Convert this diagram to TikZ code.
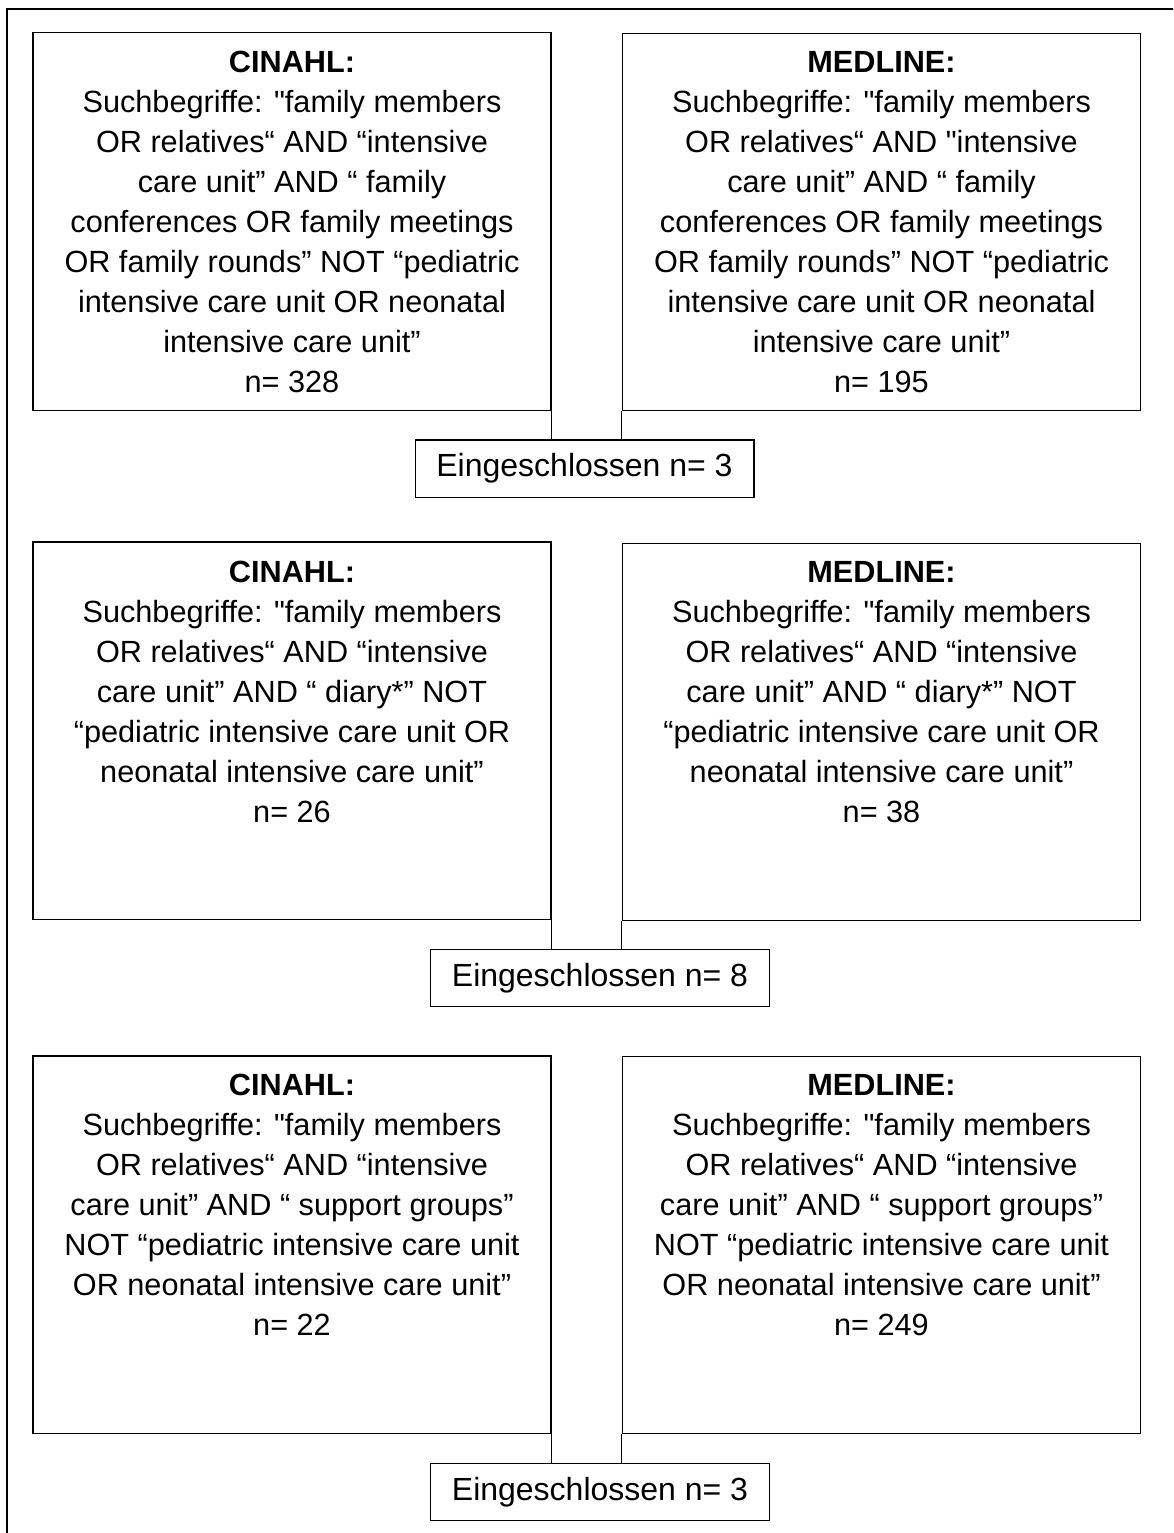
\documentclass[tikz,border=0pt]{standalone}
\usepackage{fontspec}
\setmainfont{Liberation Sans}
\newfontfamily\plainfont{Liberation Sans}
\newcommand\dq{{\plainfont"}}
\begin{document}
\begin{tikzpicture}[x=0.75pt,y=-0.75pt,
  box/.style={draw=black,line width=1pt,rectangle,inner sep=0pt},
  srch/.style={box,minimum width=388.5pt,minimum height=283pt},
  incl/.style={box,minimum width=254pt,minimum height=43pt,font=\fontsize{24}{30}\selectfont},
  txt/.style={anchor=north,inner sep=0pt,align=center,font=\fontsize{23}{30}\selectfont},
  link/.style={draw=black,line width=0.8pt}]
\useasboundingbox (0,0) rectangle (1173,1533);
\clip (0,0) rectangle (1173,1533);
\draw[line width=1.6pt] (7,9) rectangle (1190,1550);

% Row 1
\node[srch] (c1) at (292,221.5) {};
\node[srch] (m1) at (881.5,222) {};
\node[txt] (tc1) at (292,51) {\textbf{CINAHL:}\\Suchbegriffe: \dq family members\\OR relatives“ AND “intensive\\care unit” AND “ family\\conferences OR family meetings\\OR family rounds” NOT “pediatric\\intensive care unit OR neonatal\\intensive care unit”\\n= 328};
\node[txt] (tm1) at (881.5,51) {\textbf{MEDLINE:}\\Suchbegriffe: \dq family members\\OR relatives“ AND \dq intensive\\care unit” AND “ family\\conferences OR family meetings\\OR family rounds” NOT “pediatric\\intensive care unit OR neonatal\\intensive care unit”\\n= 195};
\node[incl] (e1) at (584.5,468.5) {Eingeschlossen n= 3};
\draw[link] (c1.south east) -- (c1.south east |- e1.north);
\draw[link] (m1.south west) -- (m1.south west |- e1.north);

% Row 2
\node[srch] (c2) at (292,730.5) {};
\node[srch] (m2) at (881.5,732) {};
\node[txt] (tc2) at (292,561) {\textbf{CINAHL:}\\Suchbegriffe: \dq family members\\OR relatives“ AND “intensive\\care unit” AND “ diary*” NOT\\“pediatric intensive care unit OR\\neonatal intensive care unit”\\n= 26};
\node[txt] (tm2) at (881.5,561) {\textbf{MEDLINE:}\\Suchbegriffe: \dq family members\\OR relatives“ AND “intensive\\care unit” AND “ diary*” NOT\\“pediatric intensive care unit OR\\neonatal intensive care unit”\\n= 38};
\node[incl] (e2) at (600,978) {Eingeschlossen n= 8};
\draw[link] (c2.south east) -- (c2.south east |- e2.north);
\draw[link] (m2.south west) -- (m2.south west |- e2.north);

% Row 3
\node[srch] (c3) at (292,1244.5) {};
\node[srch] (m3) at (881.5,1245) {};
\node[txt] (tc3) at (292,1074) {\textbf{CINAHL:}\\Suchbegriffe: \dq family members\\OR relatives“ AND “intensive\\care unit” AND “ support groups”\\NOT “pediatric intensive care unit\\OR neonatal intensive care unit”\\n= 22};
\node[txt] (tm3) at (881.5,1074) {\textbf{MEDLINE:}\\Suchbegriffe: \dq family members\\OR relatives“ AND “intensive\\care unit” AND “ support groups”\\NOT “pediatric intensive care unit\\OR neonatal intensive care unit”\\n= 249};
\node[incl] (e3) at (600,1492) {Eingeschlossen n= 3};
\draw[link] (c3.south east) -- (c3.south east |- e3.north);
\draw[link] (m3.south west) -- (m3.south west |- e3.north);
\end{tikzpicture}
\end{document}
